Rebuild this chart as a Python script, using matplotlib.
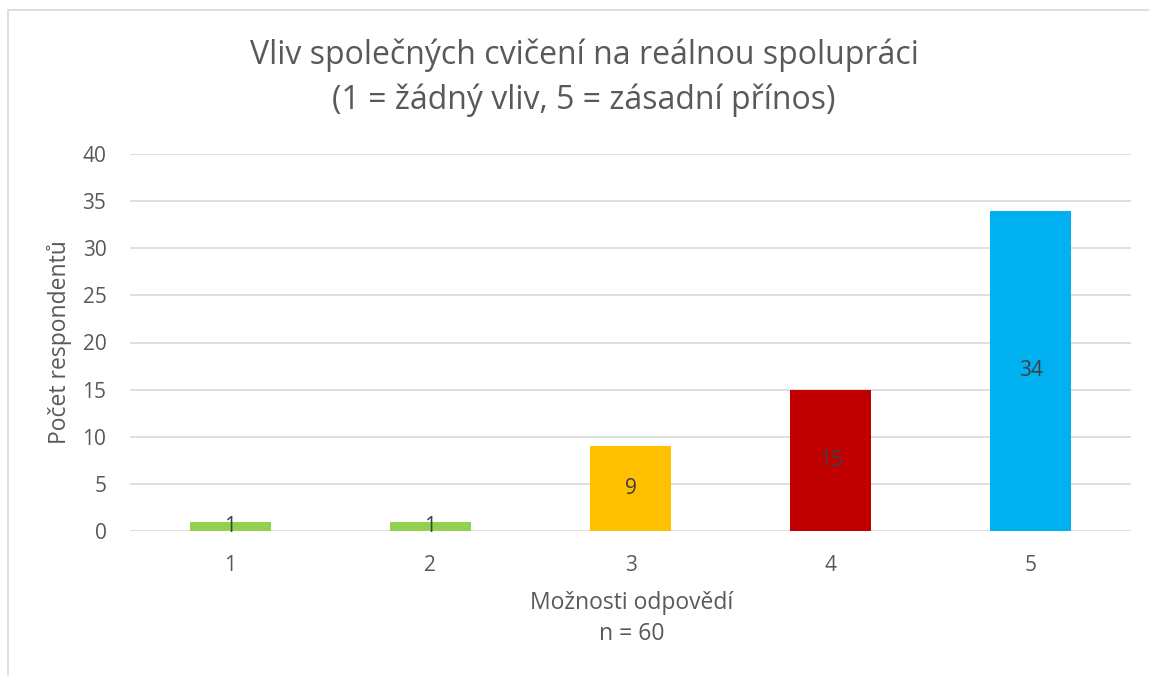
import matplotlib
matplotlib.use("Agg")
import matplotlib.pyplot as plt
from matplotlib.patches import Rectangle

# data
categories = ["1", "2", "3", "4", "5"]
counts = [1, 1, 9, 15, 34]
colors = ["#92D050", "#92D050", "#FFC000", "#C00000", "#00B0F0"]
y_ticks = [0, 5, 10, 15, 20, 25, 30, 35, 40]

plt.rcParams['font.family'] = ['Open Sans', 'DejaVu Sans']
text_col = "#595959"

W, H = 1149, 676
fig = plt.figure(figsize=(W / 100, H / 100), dpi=100)

# chart frame (right and bottom edges fall outside the picture)
fig.patches.append(Rectangle((8 / W, -0.2), 1.2, 1.2 - 10 / H, transform=fig.transFigure,
                             fill=False, edgecolor="#D9D9D9", lw=1.2))

ax = fig.add_axes([130 / W, 1 - 531 / H, (1131 - 130) / W, (531 - 154) / H])
x = range(len(categories))
bars = ax.bar(x, counts, width=0.405, color=colors, zorder=2)

ax.set_xlim(-0.5, len(categories) - 0.5)
ax.set_ylim(0, 40)
ax.set_yticks(y_ticks)
ax.set_xticks(list(x))
ax.set_xticklabels(categories)
ax.grid(axis="y", color="#D9D9D9", lw=1.2, zorder=0)
for s in ax.spines.values():
    s.set_visible(False)
ax.tick_params(length=0, labelsize=15, colors=text_col)
ax.tick_params(axis="y", pad=17)
ax.tick_params(axis="x", pad=17)

for b, v in zip(bars, counts):
    ax.text(b.get_x() + b.get_width() / 2, v / 2, str(v), ha="center", va="center",
            fontsize=15, color="#404040", zorder=3)

fig.text(584 / W, 1 - 55 / H, "Vliv společných cvičení na reálnou spolupráci",
         ha="center", va="center", fontsize=23, color=text_col)
fig.text(584 / W, 1 - 100 / H, "(1 = žádný vliv, 5 = zásadní přínos)",
         ha="center", va="center", fontsize=23, color=text_col)

fig.text(60 / W, 1 - 342 / H, "Počet respondentů", rotation=90,
         ha="center", va="center", fontsize=16.5, color=text_col)
fig.text(632 / W, 1 - 603 / H, "Možnosti odpovědí", ha="center", va="center",
         fontsize=16.5, color=text_col)
fig.text(632 / W, 1 - 634 / H, "n = 60", ha="center", va="center",
         fontsize=16.5, color=text_col)

fig.savefig("out.png", dpi=100)
